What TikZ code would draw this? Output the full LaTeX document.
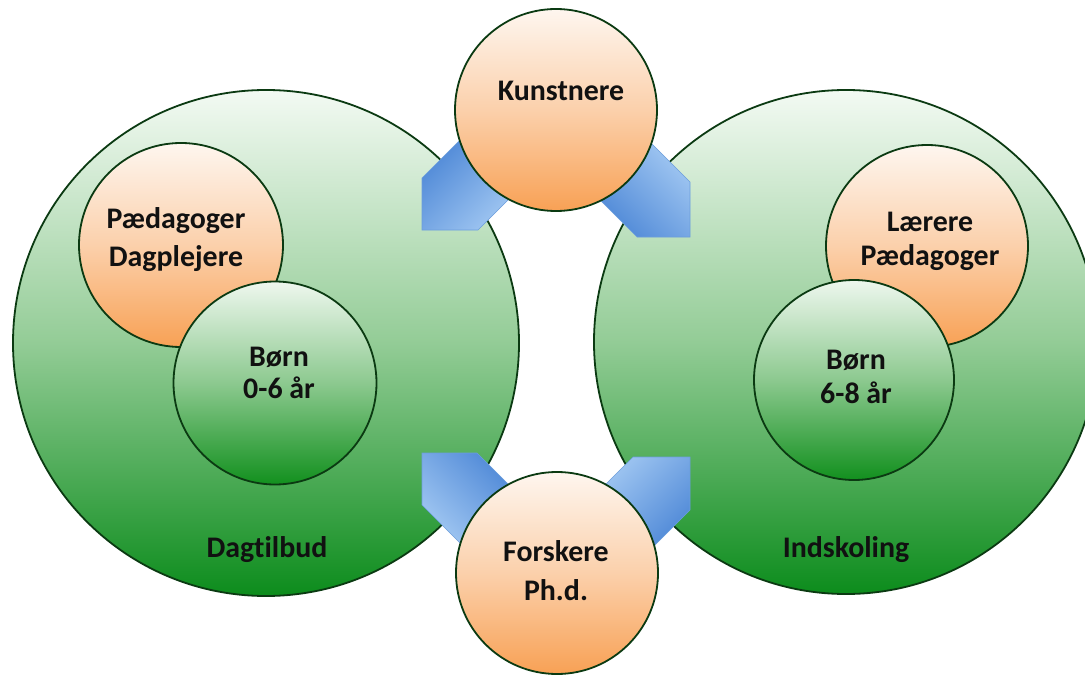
\documentclass[tikz,border=0pt]{standalone}
\usepackage{fontspec}
\setmainfont{Carlito}[Ligatures=NoCommon]
\definecolor{bord}{HTML}{0B3A12}
\definecolor{gtop}{HTML}{F3FAF3}
\definecolor{gmid}{HTML}{93CC96}
\definecolor{gbot}{HTML}{0C8C1C}
\definecolor{itop}{HTML}{EEF7EE}
\definecolor{imid}{HTML}{8CC98F}
\definecolor{ibot}{HTML}{12901E}
\definecolor{otop}{HTML}{FEF6EF}
\definecolor{omid}{HTML}{FBD0AB}
\definecolor{obot}{HTML}{F8A155}
\definecolor{bdark}{HTML}{4682D4}
\definecolor{blight}{HTML}{AACEF5}
\definecolor{bedge}{HTML}{6C9EDC}
\definecolor{txtc}{HTML}{111111}
\begin{document}
\begin{tikzpicture}[x=1bp,y=-1bp,
  edge/.style={draw=bord, line width=1.8bp},
  bigc/.style={circle, edge, inner sep=0pt, minimum size=#1,
    top color=gtop, bottom color=gbot, middle color=gmid},
  kidc/.style={circle, edge, inner sep=0pt, minimum size=#1,
    top color=itop, bottom color=ibot, middle color=imid},
  orac/.style={circle, edge, inner sep=0pt, minimum size=#1,
    top color=otop, bottom color=obot, middle color=omid},
  arr/.style={draw=bedge, line width=0.6bp, top color=bdark, bottom color=blight, shading angle=#1},
  lbl/.style={anchor=base, inner sep=0pt, text=txtc,
    font=\fontsize{30}{36}\selectfont\bfseries}
]
\useasboundingbox (0,0) rectangle (1085,675);
\begin{scope}
  \clip (0,0) rectangle (1085,675);
  % big circles
  \node[bigc=506bp] (dag) at (266,343) {};
  \node[bigc=504bp] (ind) at (846,342) {};
  % inner circles left
  \node[orac=204bp] (paedL) at (181,245) {};
  \node[kidc=203bp] (bornL) at (275,383) {};
  % inner circles right
  \node[orac=202bp] (laer) at (927,246) {};
  \node[kidc=200bp] (bornR) at (854,380) {};
  % arrows
  \path[arr=45]   (422,230) -- (422,178) -- (482,118) -- (538,170) -- (478,230) -- cycle;
  \path[arr=135]  (690,237) -- (637,237) -- (577,177) -- (630,122) -- (690,182) -- cycle;
  \path[arr=-45]  (422,453) -- (477,453) -- (537,513) -- (482,565) -- (422,505) -- cycle;
  \path[arr=-135] (690,457) -- (690,510) -- (630,570) -- (573,517) -- (633,457) -- cycle;
  % top and bottom circles
  \node[orac=202bp] (kun) at (556,110) {};
  \node[orac=202bp] (for) at (557,573) {};
\end{scope}
% labels
\node[lbl] (tkun) at (561,101) {Kunstnere};
\node[lbl] (tpl1) at (176,228) {Pædagoger};
\node[lbl] (tpl2) at (176,266) {Dagplejere};
\node[lbl] (tbl1) at (279,366) {Børn};
\node[lbl] (tbl2) at (279,398) {0-6 år};
\node[lbl] (tdag) at (267,557) {Dagtilbud};
\node[lbl] (tlr1) at (930,231) {Lærere};
\node[lbl] (tlr2) at (930,265) {Pædagoger};
\node[lbl] (tbr1) at (856,369) {Børn};
\node[lbl] (tbr2) at (856,403) {6-8 år};
\node[lbl] (tind) at (846,557) {Indskoling};
\node[lbl] (tfo1) at (556,561) {Forskere};
\node[lbl] (tfo2) at (556,600) {Ph.d.};
\end{tikzpicture}
\end{document}
